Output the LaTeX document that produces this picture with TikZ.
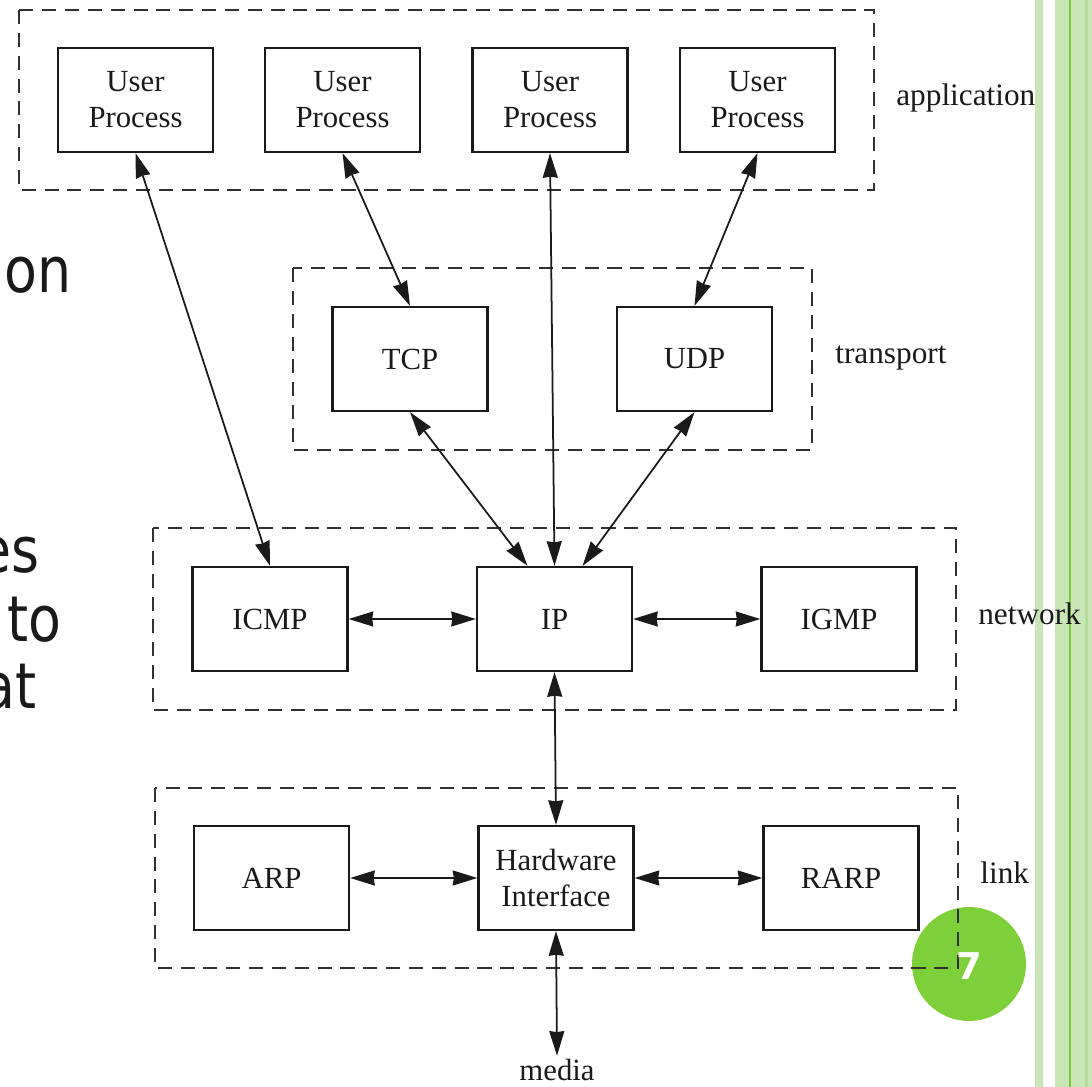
\documentclass[tikz,border=0pt]{standalone}
\usepackage{fontspec}
\setmainfont{Liberation Serif}
\newfontfamily\slidesans{DejaVu Sans}
\usetikzlibrary{arrows.meta,calc}

\definecolor{stripelight}{HTML}{C8E6B6}
\definecolor{stripemid}{HTML}{B4DC9C}
\definecolor{stripedark}{HTML}{7CCB3C}
\definecolor{badgegreen}{HTML}{7ED03B}
\definecolor{ink}{HTML}{1A1A1A}

\begin{document}
\begin{tikzpicture}[x=0.02cm,y=-0.02cm,
  proc/.style={draw=ink,line width=1.3pt,minimum width=3.1cm,minimum height=2.08cm,
    inner sep=0pt,align=center,text=ink,font=\rmfamily\fontsize{17.5}{20.5}\selectfont},
  layer/.style={draw=ink!90,line width=1.2pt,dash pattern=on 8pt off 5pt},
  lbl/.style={anchor=base west,inner sep=0pt,text=ink,font=\rmfamily\fontsize{17.8}{19}\selectfont},
  biarrow/.style={draw=ink,line width=1pt,{Stealth[length=14pt,width=8.5pt,inset=0.6pt]}-{Stealth[length=14pt,width=8.5pt,inset=0.6pt]}},
  slidetext/.style={anchor=base east,inner sep=0pt,text=ink,font=\slidesans\fontsize{36}{36}\selectfont}]

\useasboundingbox (0,0) rectangle (1092,1087);

% slide decoration: vertical stripes on the right
\fill[stripelight] (1035,0) rectangle (1043,1087);
\fill[stripelight] (1055,0) rectangle (1092,1087);
\fill[stripemid] (1085,0) rectangle (1088,1087);
\fill[stripedark] (1069,0) rectangle (1071,1087);

% page badge
\fill[badgegreen] (969,964) circle (1.14cm);

% slide body text partly covered by the figure
\node[slidetext] (w1) at (72,293) {\scalebox{0.85}[1]{on}};
\node[slidetext] (w2) at (40,573) {\scalebox{0.85}[1]{es}};
\node[slidetext] (w3) at (62,642) {\scalebox{0.85}[1]{to}};
\node[slidetext] (w4) at (37,708) {\scalebox{0.85}[1]{at}};

% layer frames
\draw[layer] (19,10) rectangle (874,190);
\draw[layer] (293,268) rectangle (812,450);
\draw[layer] (153,528) rectangle (956,710);
\draw[layer] (155,788) rectangle (958,968);

% layer names
\node[lbl] (lapp) at (896,106) {application};
\node[lbl] (ltrans) at (835,364) {transport};
\node[lbl] (lnet) at (978,624) {network};
\node[lbl] (llink) at (980,883) {link};

% application layer
\node[proc] (u1) at (135.5,100) {User\\Process};
\node[proc] (u2) at (342.5,100) {User\\Process};
\node[proc] (u3) at (550,100) {User\\Process};
\node[proc] (u4) at (757.5,100) {User\\Process};

% transport layer
\node[proc] (tcp) at (410,359) {TCP};
\node[proc] (udp) at (694.5,359) {UDP};

% network layer
\node[proc] (icmp) at (270,619) {ICMP};
\node[proc] (ip) at (554.5,619) {IP};
\node[proc] (igmp) at (839,619) {IGMP};

% link layer
\node[proc] (arp) at (271.5,878) {ARP};
\node[proc] (hw) at (556,878) {Hardware\\Interface};
\node[proc] (rarp) at (841,878) {RARP};

% physical medium
\node[anchor=base,inner sep=1.5pt,text=ink,font=\rmfamily\fontsize{17.5}{19}\selectfont] (media) at (557,1080) {media};

% connections between layers
\draw[biarrow] (u1.south) -- (icmp.north);
\draw[biarrow] (u2.south) -- (tcp.north);
\draw[biarrow] (u3.south) -- (ip.north);
\draw[biarrow] (u4.south) -- (udp.north);
\draw[biarrow] (tcp.south) -- ($(ip.north)+(-27,0)$);
\draw[biarrow] (udp.south) -- ($(ip.north)+(28,0)$);
\draw[biarrow] (icmp.east) -- (ip.west);
\draw[biarrow] (ip.east) -- (igmp.west);
\draw[biarrow] (ip.south) -- (hw.north);
\draw[biarrow] (arp.east) -- (hw.west);
\draw[biarrow] (hw.east) -- (rarp.west);
\draw[biarrow] (hw.south) -- (media.north);

% page number on the badge
\node[text=white,inner sep=0pt,font=\slidesans\bfseries\fontsize{21}{21}\selectfont] (pagenum) at (969,966) {7};
\end{tikzpicture}
\end{document}
